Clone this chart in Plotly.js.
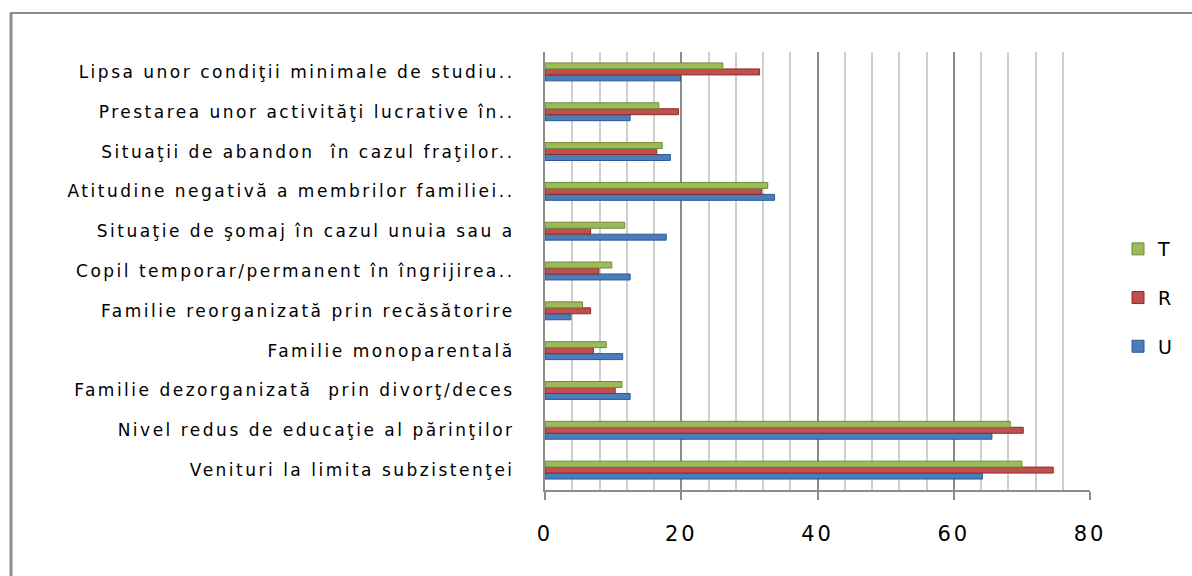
<!DOCTYPE html>
<html>
<head>
<meta charset="utf-8">
<script src="https://cdn.plot.ly/plotly-3.0.1.min.js"></script>
<style>
html,body{margin:0;padding:0;background:#fff;}
#chart{width:1192px;height:576px;}
#chart .ytick text{letter-spacing:2.5px;}
#chart .xtick text{letter-spacing:3px;}
</style>
</head>
<body>
<div id="chart"></div>
<script>
const categories = [
  "Venituri la limita subzistenţei",
  "Nivel redus de educaţie al părinţilor",
  "Familie dezorganizată  prin divorţ/deces",
  "Familie monoparentală",
  "Familie reorganizată prin recăsătorire",
  "Copil temporar/permanent în îngrijirea..",
  "Situaţie de şomaj în cazul unuia sau a",
  "Atitudine negativă a membrilor familiei..",
  "Situaţii de abandon  în cazul fraţilor..",
  "Prestarea unor activităţi lucrative în..",
  "Lipsa unor condiţii minimale de studiu.."
];
const valuesU = [64.2, 65.6, 12.5, 11.4, 3.8, 12.5, 17.8, 33.7, 18.4, 12.5, 19.9];
const valuesR = [74.6, 70.2, 10.3, 7.1, 6.7, 7.9, 6.7, 31.8, 16.4, 19.6, 31.5];
const valuesT = [70.0, 68.3, 11.3, 9.0, 5.5, 9.8, 11.7, 32.7, 17.2, 16.7, 26.1];
const seriesNames = ["U", "R", "T"];
const xTicks = [0, 20, 40, 60, 80];

const colors = ["#4a7ebb", "#c0504d", "#9bbb59"];
const edge = ["#2c5a94", "#8c2d2a", "#6f8c38"];
const vals = [valuesU, valuesR, valuesT];

const traces = vals.map((v, i) => ({
  type: "bar",
  orientation: "h",
  name: seriesNames[i],
  y: categories,
  x: v,
  legendgroup: seriesNames[i],
  legendrank: 3 - i,
  marker: {color: colors[i], line: {color: edge[i], width: 1}},
  hoverinfo: "x+name"
}));

const TOP = 52, BOT = 490, LEFT = 545, RIGHT = 1090;
const px = (p) => (p - LEFT) / (RIGHT - LEFT);
const py = (p) => (BOT - p) / (BOT - TOP);

const layout = {
  width: 1192, height: 576,
  margin: {l: LEFT, r: 1192 - RIGHT, t: TOP, b: 576 - BOT},
  paper_bgcolor: "#ffffff",
  plot_bgcolor: "#ffffff",
  barmode: "group",
  bargap: 0.55,
  bargroupgap: 0,
  font: {family: "DejaVu Sans, Arial, sans-serif", color: "#000"},
  xaxis: {
    range: [0, 80],
    tickvals: xTicks,
    ticktext: xTicks.map(String),
    showgrid: true,
    gridcolor: "#8c8c8c",
    gridwidth: 2,
    minor: {dtick: 4, showgrid: true, gridcolor: "#cfcfcf", gridwidth: 2},
    showline: true,
    linecolor: "#8c8c8c",
    linewidth: 2,
    ticks: "outside",
    ticklen: 8,
    tickcolor: "#8c8c8c",
    tickwidth: 2,
    ticklabelstandoff: 16,
    tickfont: {size: 21, family: "DejaVu Sans, Arial, sans-serif"},
    zeroline: false,
    fixedrange: true
  },
  yaxis: {
    type: "category",
    categoryorder: "array",
    categoryarray: categories,
    showline: true,
    linecolor: "#8c8c8c",
    linewidth: 2,
    showgrid: false,
    ticks: "",
    ticklabelstandoff: 25,
    tickfont: {size: 17, family: "DejaVu Sans, Arial, sans-serif"},
    fixedrange: true
  },
  showlegend: true,
  legend: {
    x: px(1118), y: py(230), xanchor: "left", yanchor: "top",
    traceorder: "grouped",
    tracegroupgap: 21,
    font: {size: 19, family: "DejaVu Sans, Arial, sans-serif"},
    bgcolor: "rgba(0,0,0,0)",
    itemwidth: 30
  },
  shapes: [
    {type: "line", xref: "paper", yref: "paper", x0: px(10), x1: px(1192), y0: py(13), y1: py(13), line: {color: "#8c8c8c", width: 2}},
    {type: "line", xref: "paper", yref: "paper", x0: px(11), x1: px(11), y0: py(13), y1: py(576), line: {color: "#8c8c8c", width: 3}}
  ]
};

Plotly.newPlot("chart", traces, layout, {displayModeBar: false, staticPlot: true});
</script>
</body>
</html>
